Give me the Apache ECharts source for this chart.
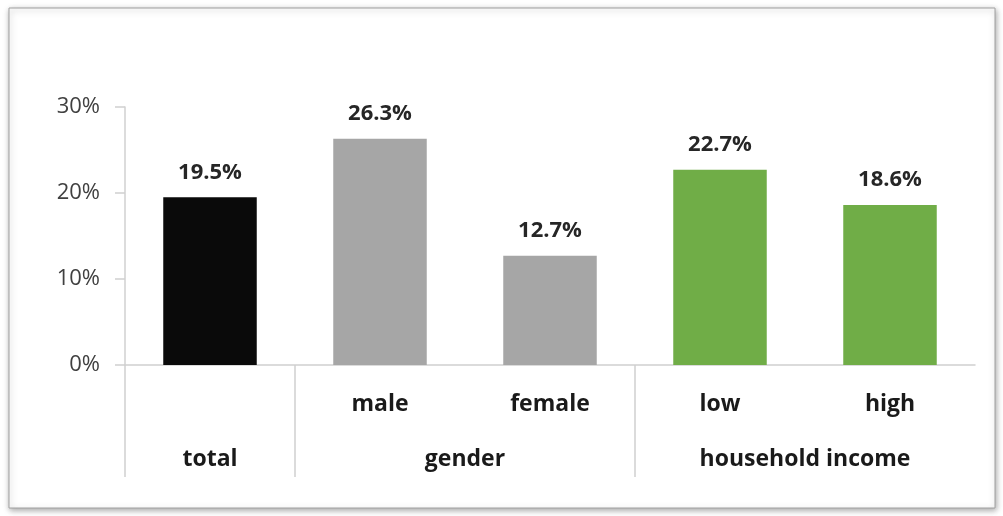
<!DOCTYPE html>
<html>
<head>
<meta charset="utf-8">
<script src="https://cdn.jsdelivr.net/npm/echarts@6/dist/echarts.min.js"></script>
<style>
  html, body { margin: 0; padding: 0; background: #fff; }
  #chart { width: 1003px; height: 516px; }
</style>
</head>
<body>
<div id="chart"></div>
<script>
// categories under each bar, group labels and their positions on the 0..5 band scale
const categories = ['total', 'male', 'female', 'low', 'high']
const values     = [0.195, 0.263, 0.127, 0.227, 0.186]
const groupNames = ['total', 'gender', 'household income']
const groupMids  = [0.5, 2, 4]
const groupEdges = [0, 1, 3]
const yTicks     = [0, 0.1, 0.2, 0.3]

const barColors = ['#0a0a0a', '#a6a6a6', '#a6a6a6', '#70ad47', '#70ad47']
const font = '"Open Sans", Lato, sans-serif'

const chart = echarts.init(document.getElementById('chart'))
chart.setOption({
  animation: false,
  textStyle: { fontFamily: font },
  graphic: [{
    type: 'rect',
    shape: { x: 9, y: 8, width: 986, height: 500 },
    style: {
      fill: '#fff', stroke: '#a0a0a0', lineWidth: 1,
      shadowBlur: 6, shadowColor: 'rgba(0,0,0,0.35)', shadowOffsetX: 1, shadowOffsetY: 2
    },
    z: -10
  }],
  grid: { left: 125, right: 28, top: 107, bottom: 151 },
  xAxis: [
    {
      type: 'category',
      data: categories,
      axisLine: { lineStyle: { color: '#d0d0d0', width: 1.5 } },
      axisTick: { show: false },
      axisLabel: {
        margin: 28,
        fontSize: 23, fontWeight: 'bold', color: '#1a1a1a', fontFamily: font,
        formatter: (v, i) => i === 0 ? '' : v
      }
    },
    {
      type: 'value',
      position: 'bottom',
      min: 0, max: 5,
      axisLine: { show: false },
      splitLine: { show: false },
      axisTick: {
        show: true,
        customValues: groupEdges,
        length: 112,
        lineStyle: { color: '#d0d0d0', width: 1.5 }
      },
      axisLabel: {
        customValues: groupMids,
        margin: 83,
        fontSize: 23, fontWeight: 'bold', color: '#1a1a1a', fontFamily: font,
        formatter: v => groupNames[groupMids.indexOf(v)]
      }
    }
  ],
  yAxis: {
    type: 'value',
    min: yTicks[0], max: yTicks[yTicks.length - 1], interval: 0.1,
    axisLine: { show: true, lineStyle: { color: '#d0d0d0', width: 1.5 } },
    axisTick: { show: true, length: 10, lineStyle: { color: '#d0d0d0', width: 1.5 } },
    splitLine: { show: false },
    axisLabel: {
      margin: 25,
      fontSize: 22, color: '#404040', fontFamily: font,
      formatter: v => Math.round(v * 100) + '%'
    }
  },
  series: [{
    type: 'bar',
    xAxisIndex: 0,
    barWidth: '55%',
    data: values.map((v, i) => ({ value: v, itemStyle: { color: barColors[i] } })),
    label: {
      show: true,
      position: 'top',
      distance: 14,
      fontSize: 22, fontWeight: 'bold', color: '#262626', fontFamily: font,
      formatter: p => (p.value * 100).toFixed(1) + '%'
    }
  }]
})
</script>
</body>
</html>
